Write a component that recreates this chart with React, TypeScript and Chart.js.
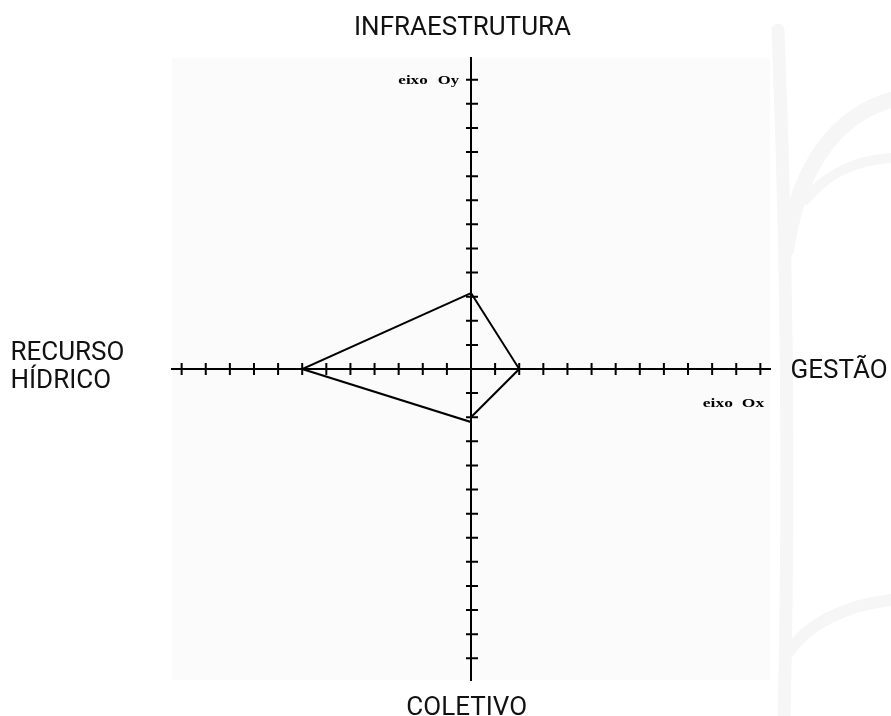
import React, { useEffect, useRef } from 'react';
import { Chart, registerables } from 'chart.js';

Chart.register(...registerables);

// Axis names (four dimensions)
const topLabel = 'INFRAESTRUTURA';
const rightLabel = 'GESTÃO';
const bottomLabel = 'COLETIVO';
const leftLabelLines = ['RECURSO', 'HÍDRICO'];
const xAxisName = ['eixo', 'Ox'];
const yAxisName = ['eixo', 'Oy'];

// Tick values on both axes
const axisTicks = [-12, -11, -10, -9, -8, -7, -6, -5, -4, -3, -2, -1, 0, 1, 2, 3, 4, 5, 6, 7, 8, 9, 10, 11, 12];
const xRange = [-12.4, 12.4];
const yRange = [-12.9, 12.9];

// Polygon vertices (Infraestrutura, Gestão, Coletivo, Coletivo, Recurso Hídrico, Infraestrutura)
const shapeX = [0, 2, 0, 0, -7, 0];
const shapeY = [3.15, 0, -2, -2.2, 0, 3.15];

const crossPlugin = {
  id: 'crossAxes',
  beforeDraw(chart: any) {
    const { ctx, chartArea: a, width, height } = chart;
    ctx.save();
    ctx.fillStyle = '#ffffff';
    ctx.fillRect(0, 0, width, height);
    // faint watermark strokes
    ctx.strokeStyle = '#f6f6f6';
    ctx.lineCap = 'round';
    ctx.lineWidth = 13;
    ctx.beginPath();
    ctx.moveTo(778, 30);
    ctx.quadraticCurveTo(792, 380, 784, 716);
    ctx.stroke();
    ctx.lineWidth = 16;
    ctx.beginPath();
    ctx.moveTo(786, 250);
    ctx.bezierCurveTo(800, 160, 840, 115, 891, 100);
    ctx.stroke();
    ctx.lineWidth = 10;
    ctx.beginPath();
    ctx.moveTo(805, 200);
    ctx.bezierCurveTo(830, 170, 860, 160, 891, 158);
    ctx.stroke();
    ctx.lineWidth = 12;
    ctx.beginPath();
    ctx.moveTo(786, 655);
    ctx.bezierCurveTo(810, 620, 850, 605, 891, 600);
    ctx.stroke();
    ctx.fillStyle = '#fbfbfb';
    ctx.fillRect(a.left, a.top, a.right - a.left, a.bottom - a.top);
    ctx.restore();
  },
  afterDraw(chart: any) {
    const { ctx } = chart;
    const xs = chart.scales.x;
    const ys = chart.scales.y;
    const ox = xs.getPixelForValue(0);
    const oy = ys.getPixelForValue(0);
    ctx.save();
    ctx.strokeStyle = '#000';
    ctx.lineWidth = 2;
    ctx.beginPath();
    axisTicks.forEach((v) => {
      if (v === 0) return;
      const px = xs.getPixelForValue(v);
      ctx.moveTo(px, oy - 6);
      ctx.lineTo(px, oy + 6);
      const py = ys.getPixelForValue(v);
      ctx.moveTo(ox - 5, py);
      ctx.lineTo(ox + 7, py);
    });
    ctx.stroke();

    // serif axis names, stretched like the original image
    ctx.fillStyle = '#000';
    ctx.font = 'bold 13px "Liberation Serif"';
    ctx.textBaseline = 'alphabetic';
    ctx.textAlign = 'left';
    const stretch = (t: string, l: number, r: number, b: number) => {
      const w = ctx.measureText(t).width;
      ctx.save();
      ctx.translate(l, b);
      ctx.scale((r - l) / w, 1);
      ctx.fillText(t, 0, 0);
      ctx.restore();
    };
    const yTop = ys.getPixelForValue(12);
    stretch(yAxisName[0], ox - 72.7, ox - 43.3, yTop + 4.5);
    stretch(yAxisName[1], ox - 33.3, ox - 12, yTop + 4.5);
    const xRight = xs.getPixelForValue(12);
    stretch(xAxisName[0], xRight - 57.5, xRight - 27.5, oy + 37.7);
    stretch(xAxisName[1], xRight - 18.5, xRight + 3.8, oy + 37.7);

    // dimension labels
    ctx.fillStyle = '#111';
    ctx.font = '26px Roboto';
    ctx.textAlign = 'center';
    ctx.fillText(topLabel, ox - 8.5, 35);
    ctx.fillText(bottomLabel, ox - 4.3, 715);
    ctx.textAlign = 'left';
    ctx.fillText(rightLabel, 790.5, 378);
    ctx.fillText(leftLabelLines[0], 10.5, 360);
    ctx.fillText(leftLabelLines[1], 10.5, 388.3);
    ctx.restore();
  },
};

export default function App() {
  const ref = useRef<HTMLCanvasElement>(null);
  useEffect(() => {
    if (!ref.current) return;
    const chart = new Chart(ref.current, {
      type: 'scatter',
      data: {
        datasets: [
          {
            data: shapeX.map((x, i) => ({ x, y: shapeY[i] })),
            showLine: true,
            borderColor: '#000',
            borderWidth: 2,
            pointRadius: 0,
            tension: 0,
            fill: false,
          },
        ],
      },
      options: {
        animation: false,
        responsive: false,
        devicePixelRatio: 1,
        layout: { padding: { left: 172, right: 121, top: 58, bottom: 36 } },
        plugins: { legend: { display: false }, tooltip: { enabled: false }, title: { display: false } },
        scales: {
          x: {
            type: 'linear',
            min: xRange[0],
            max: xRange[1],
            position: { y: 0 },
            ticks: { display: false, stepSize: 1 },
            grid: { display: false, drawTicks: false },
            border: { display: true, color: '#000', width: 2 },
          },
          y: {
            type: 'linear',
            min: yRange[0],
            max: yRange[1],
            position: { x: 0 },
            ticks: { display: false, stepSize: 1 },
            grid: { display: false, drawTicks: false },
            border: { display: true, color: '#000', width: 2 },
          },
        },
      },
      plugins: [crossPlugin],
    } as any);
    return () => chart.destroy();
  }, []);
  return (
    <div style={{ position: 'absolute', left: 0, top: 0, width: 891, height: 716 }}>
      <canvas ref={ref} width={891} height={716} style={{ width: 891, height: 716, display: 'block' }} />
    </div>
  );
}
